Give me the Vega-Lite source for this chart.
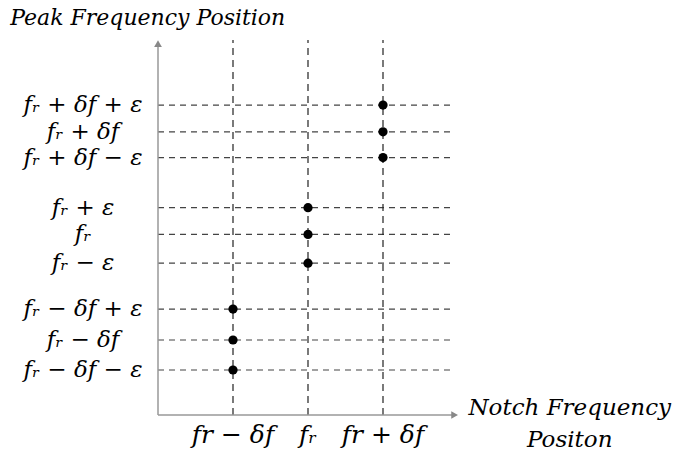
{
  "$schema": "https://vega.github.io/schema/vega-lite/v6.json",
  "width": 300,
  "height": 375,
  "autosize": {"type": "none"},
  "padding": {"left": 158, "top": 40, "right": 220, "bottom": 40},
  "background": "white",
  "config": {"view": {"stroke": null}, "font": "DejaVu Serif"},
  "datasets": {
    "peaks": [
      {"notch": 3, "peak": 10.33, "label": "fᵣ + δf + ε"},
      {"notch": 3, "peak": 9.44, "label": "fᵣ + δf"},
      {"notch": 3, "peak": 8.58, "label": "fᵣ + δf − ε"},
      {"notch": 2, "peak": 6.91, "label": "fᵣ + ε"},
      {"notch": 2, "peak": 6.02, "label": "fᵣ"},
      {"notch": 2, "peak": 5.06, "label": "fᵣ − ε"},
      {"notch": 1, "peak": 3.53, "label": "fᵣ − δf + ε"},
      {"notch": 1, "peak": 2.5, "label": "fᵣ − δf"},
      {"notch": 1, "peak": 1.5, "label": "fᵣ − δf − ε"}
    ],
    "notches": [
      {"notch": 1, "label": "fr − δf"},
      {"notch": 2, "label": "fᵣ"},
      {"notch": 3, "label": "fr + δf"}
    ]
  },
  "layer": [
    {
      "data": {"name": "peaks"},
      "mark": {"type": "rule", "strokeDash": [6, 5], "color": "#444", "strokeWidth": 1.2},
      "encoding": {
        "y": {"field": "peak", "type": "quantitative", "scale": {"domain": [0, 12.5], "nice": false, "zero": false}, "axis": null},
        "x": {"datum": 0, "type": "quantitative", "scale": {"domain": [0, 4], "nice": false, "zero": false}, "axis": null},
        "x2": {"datum": 3.93}
      }
    },
    {
      "data": {"name": "notches"},
      "mark": {"type": "rule", "strokeDash": [7, 5], "color": "#222", "strokeWidth": 1.2},
      "encoding": {
        "x": {"field": "notch", "type": "quantitative", "scale": {"domain": [0, 4], "nice": false, "zero": false}, "axis": null},
        "y": {"datum": 0, "type": "quantitative", "scale": {"domain": [0, 12.5], "nice": false, "zero": false}, "axis": null},
        "y2": {"datum": 12.5}
      }
    },
    {
      "data": {"values": [{}]},
      "mark": {"type": "rule", "color": "#999", "strokeWidth": 1.5},
      "encoding": {
        "x": {"datum": 0, "type": "quantitative", "scale": {"domain": [0, 4], "nice": false, "zero": false}, "axis": null},
        "y": {"datum": 0, "type": "quantitative", "scale": {"domain": [0, 12.5], "nice": false, "zero": false}, "axis": null},
        "y2": {"datum": 12.3}
      }
    },
    {
      "data": {"values": [{}]},
      "mark": {"type": "rule", "color": "#999", "strokeWidth": 1.5},
      "encoding": {
        "x": {"datum": 0, "type": "quantitative", "scale": {"domain": [0, 4], "nice": false, "zero": false}, "axis": null},
        "x2": {"datum": 3.93},
        "y": {"datum": 0, "type": "quantitative", "scale": {"domain": [0, 12.5], "nice": false, "zero": false}, "axis": null}
      }
    },
    {
      "data": {"values": [{}]},
      "mark": {"type": "point", "shape": "triangle-up", "filled": true, "color": "#888", "opacity": 1, "size": 60},
      "encoding": {
        "x": {"datum": 0, "type": "quantitative", "scale": {"domain": [0, 4], "nice": false, "zero": false}, "axis": null},
        "y": {"datum": 12.38, "type": "quantitative", "scale": {"domain": [0, 12.5], "nice": false, "zero": false}, "axis": null}
      }
    },
    {
      "data": {"values": [{}]},
      "mark": {"type": "point", "shape": "triangle-right", "filled": true, "color": "#888", "opacity": 1, "size": 60},
      "encoding": {
        "x": {"datum": 3.955, "type": "quantitative", "scale": {"domain": [0, 4], "nice": false, "zero": false}, "axis": null},
        "y": {"datum": 0, "type": "quantitative", "scale": {"domain": [0, 12.5], "nice": false, "zero": false}, "axis": null}
      }
    },
    {
      "data": {"name": "peaks"},
      "mark": {"type": "point", "filled": true, "color": "black", "opacity": 1, "size": 85},
      "encoding": {
        "x": {"field": "notch", "type": "quantitative", "scale": {"domain": [0, 4], "nice": false, "zero": false}, "axis": null},
        "y": {"field": "peak", "type": "quantitative", "scale": {"domain": [0, 12.5], "nice": false, "zero": false}, "axis": null}
      }
    },
    {
      "data": {"name": "peaks"},
      "mark": {"type": "text", "align": "center", "baseline": "middle", "fontStyle": "italic", "fontSize": 23, "color": "black"},
      "encoding": {
        "x": {"datum": -1, "type": "quantitative", "scale": {"domain": [0, 4], "nice": false, "zero": false}, "axis": null},
        "y": {"field": "peak", "type": "quantitative", "scale": {"domain": [0, 12.5], "nice": false, "zero": false}, "axis": null},
        "text": {"field": "label"}
      }
    },
    {
      "data": {"name": "notches"},
      "mark": {"type": "text", "align": "center", "baseline": "alphabetic", "fontStyle": "italic", "fontSize": 25, "color": "black"},
      "encoding": {
        "x": {"field": "notch", "type": "quantitative", "scale": {"domain": [0, 4], "nice": false, "zero": false}, "axis": null},
        "y": {"datum": -0.93, "type": "quantitative", "scale": {"domain": [0, 12.5], "nice": false, "zero": false}, "axis": null},
        "text": {"field": "label"}
      }
    },
    {
      "data": {"values": [{}]},
      "mark": {"type": "text", "text": ["Notch Frequency", "Positon"], "align": "center", "baseline": "alphabetic", "lineHeight": 32, "fontStyle": "italic", "fontSize": 23, "color": "black"},
      "encoding": {
        "x": {"datum": 5.49, "type": "quantitative", "scale": {"domain": [0, 4], "nice": false, "zero": false}, "axis": null},
        "y": {"datum": 0, "type": "quantitative", "scale": {"domain": [0, 12.5], "nice": false, "zero": false}, "axis": null}
      }
    },
    {
      "data": {"values": [{}]},
      "mark": {"type": "text", "text": "Peak Frequency Position", "align": "left", "baseline": "alphabetic", "fontStyle": "italic", "fontSize": 22, "color": "black"},
      "encoding": {
        "x": {"datum": -1.97, "type": "quantitative", "scale": {"domain": [0, 4], "nice": false, "zero": false}, "axis": null},
        "y": {"datum": 13.0, "type": "quantitative", "scale": {"domain": [0, 12.5], "nice": false, "zero": false}, "axis": null}
      }
    }
  ]
}
